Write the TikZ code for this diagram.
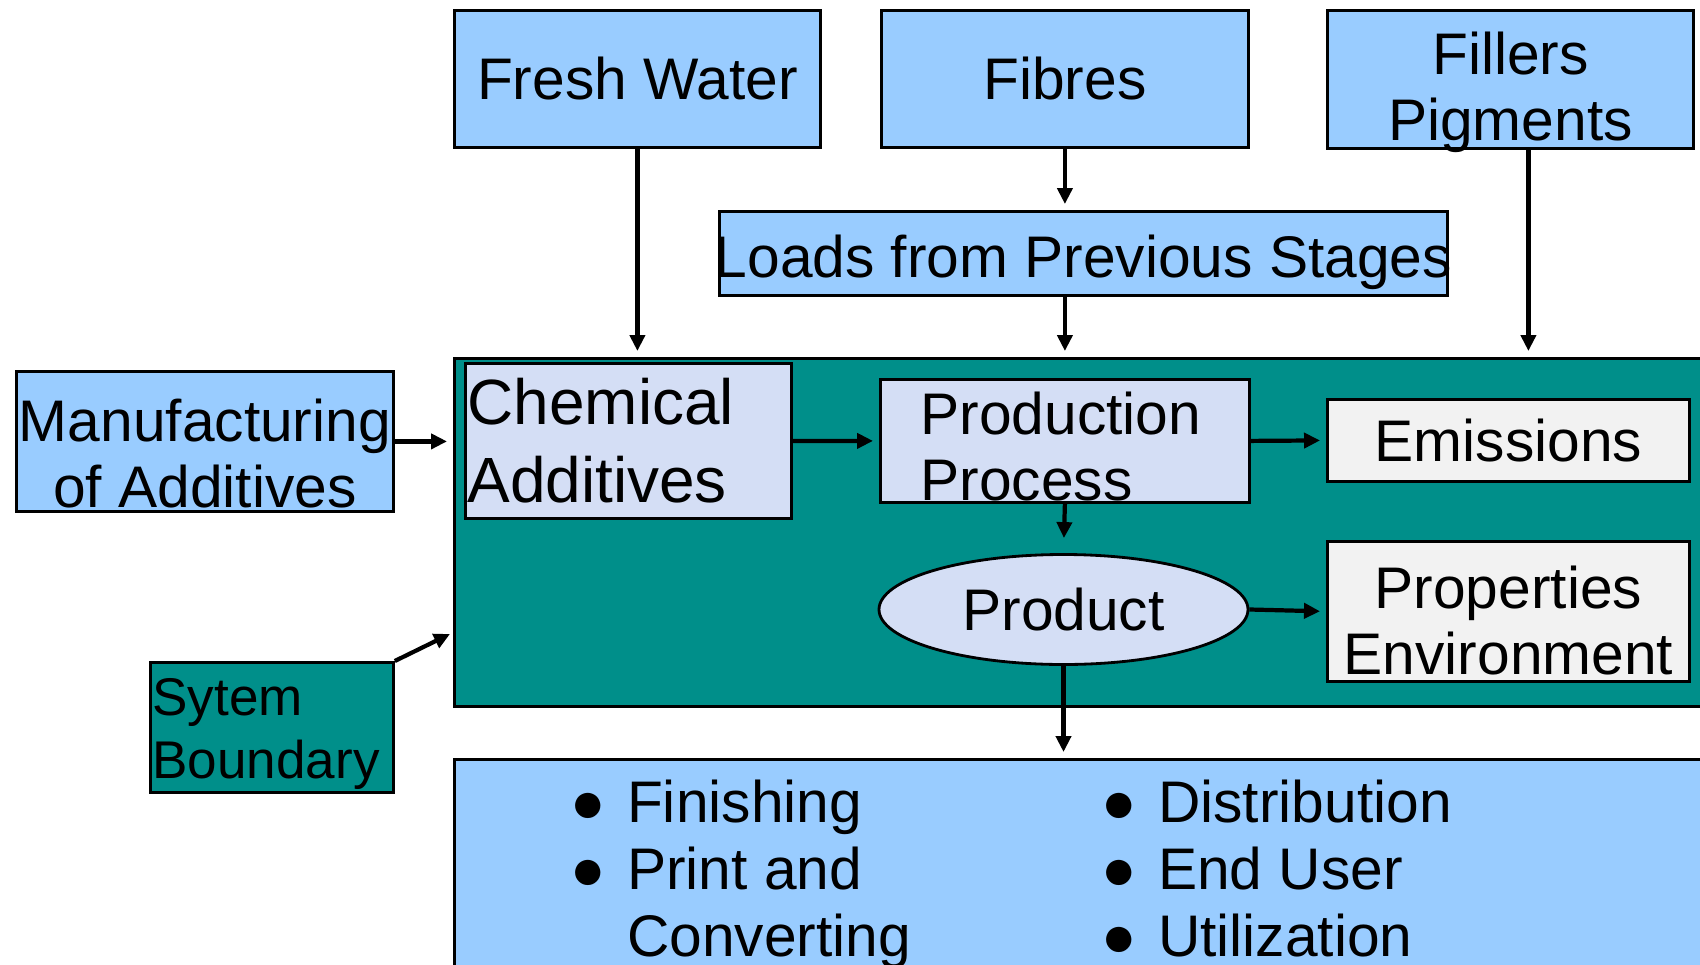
\documentclass[tikz,border=0pt]{standalone}
\usepackage{fontspec}
\setmainfont{Liberation Sans}
\usepackage{tikz}
\usetikzlibrary{arrows.meta,shapes.geometric}
\definecolor{boxblue}{RGB}{153,204,255}
\definecolor{systeal}{RGB}{0,143,138}
\definecolor{procblue}{RGB}{212,222,245}
\definecolor{outgrey}{RGB}{242,242,242}
\tikzstyle{line} = [draw, line width=1.2pt, -{Triangle[length=0.16cm,width=0.15cm]}]
\tikzstyle{box} = [draw, line width=0.8pt, anchor=north west, inner sep=0pt]
% text of a box: raise, width, alignment (c or l), lines -- may run over the border
\newcommand{\boxtext}[4]{\raisebox{#1}[0pt][0pt]{\makebox[#2][#3]{\begin{tabular}[t]{@{}#3@{}}#4\end{tabular}}}}

\begin{document}
\begin{tikzpicture}[font=\fontsize{16.7}{18.8}\selectfont]
		\useasboundingbox (0,0) rectangle (17,-9.64); % page size
		\clip (0,0) rectangle (17,-9.64);
		
		\node[box, fill=systeal, minimum width=13cm, minimum height=3.48cm] (system) at (4.53,-3.57) {}; % system boundary
		\node[box, fill=boxblue, minimum width=13cm, minimum height=2.6cm] (after) at (4.53,-7.58) {}; % after the mill
		
		\node[box, fill=boxblue, minimum width=3.66cm, minimum height=1.37cm] (fresh) at (4.53,-0.09) {Fresh Water}; % input 1
		\node[box, fill=boxblue, minimum width=3.67cm, minimum height=1.37cm] (fibres) at (8.80,-0.09) {Fibres}; % input 2
		\node[box, fill=boxblue, minimum width=3.66cm, minimum height=1.38cm] (fillers) at (13.26,-0.09) {\boxtext{0.05cm}{3.3cm}{c}{Fillers\\Pigments}}; % input 3
		\node[box, fill=boxblue, minimum width=7.28cm, minimum height=0.84cm] (loads) at (7.18,-2.10) {\boxtext{-0.24cm}{7.2cm}{c}{Loads from Previous Stages}}; % loads
		\node[box, fill=boxblue, minimum width=3.77cm, minimum height=1.40cm] (manu) at (0.15,-3.70) {\boxtext{0cm}{3.7cm}{c}{Manufacturing\\of Additives}}; % additives made outside
		\node[box, fill=systeal, minimum width=2.43cm, minimum height=1.30cm, font=\fontsize{15.1}{17.9}\selectfont] (sysnote) at (1.49,-6.61) {\boxtext{0.12cm}{2.39cm}{l}{Sytem\\Boundary}}; % legend
		
		\node[box, fill=procblue, minimum width=3.26cm, minimum height=1.55cm, align=left, text width=3.22cm, inner xsep=0.02cm, font=\fontsize{18.2}{22.2}\selectfont] (chem) at (4.64,-3.62) {Chemical\\Additives}; % chemicals
		\node[box, fill=procblue, minimum width=3.69cm, minimum height=1.23cm] (process) at (8.79,-3.78) {\boxtext{0.065cm}{2.89cm}{l}{Production\\Process}}; % process
		\node[draw, line width=0.8pt, ellipse, fill=procblue, minimum width=3.69cm, minimum height=1.10cm, inner sep=0pt] (product) at (10.635,-6.095) {Product}; % product
		\node[box, fill=outgrey, minimum width=3.62cm, minimum height=0.82cm] (emis) at (13.26,-3.98) {Emissions}; % output 1
		\node[box, fill=outgrey, minimum width=3.62cm, minimum height=1.40cm] (props) at (13.26,-5.40) {\boxtext{0.03cm}{3.5cm}{c}{Properties\\Environment}}; % output 2
		
		\node[anchor=base west, inner sep=0pt, font=\fontsize{16.7}{19.2}\selectfont] (listA) at (5.70,-8.22) {\begin{tabular}[t]{@{}l@{\hspace{0.21cm}}l@{}}●&Finishing\\●&Print and\\&Converting\end{tabular}}; % first column
		\node[anchor=base west, inner sep=0pt, font=\fontsize{16.7}{19.2}\selectfont] (listB) at (11.01,-8.22) {\begin{tabular}[t]{@{}l@{\hspace{0.21cm}}l@{}}●&Distribution\\●&End User\\●&Utilization\end{tabular}}; % second column
		
		\coordinate (sysin) at (4.50,-6.34); % end of legend arrow
		
		\draw[line, shorten >=1.7pt] (fresh.south) -- (fresh.south |- system.north); % water in
		\draw[line, shorten >=1.7pt] (fibres.south) -- (fibres.south |- loads.north); % fibres
		\draw[line, shorten >=1.7pt] (fibres.south |- loads.south) -- (fibres.south |- system.north); % loads in
		\draw[line, shorten >=1.7pt] ([xshift=1.8mm]fillers.south) -- ([xshift=1.8mm]fillers.south |- system.north); % fillers in
		\draw[line, shorten >=1.7pt] (manu.east) -- (manu.east -| system.west); % additives in
		\draw[line, shorten >=1.7pt] (chem.east) -- (process.west); % chemicals to process
		\draw[line, shorten >=1.7pt] (process.east) -- (emis.west); % emissions
		\draw[line, shorten >=0.15cm] (process.south) -- (product.north); % product
		\draw[line, shorten >=1.7pt] (product.east) -- (props.west); % properties
		\draw[line, shorten >=1.7pt] (product.south) -- (product.south |- after.north); % to next stages
		\draw[line] (sysnote.north east) -- (sysin); % legend arrow
		
\end{tikzpicture}
\end{document}
